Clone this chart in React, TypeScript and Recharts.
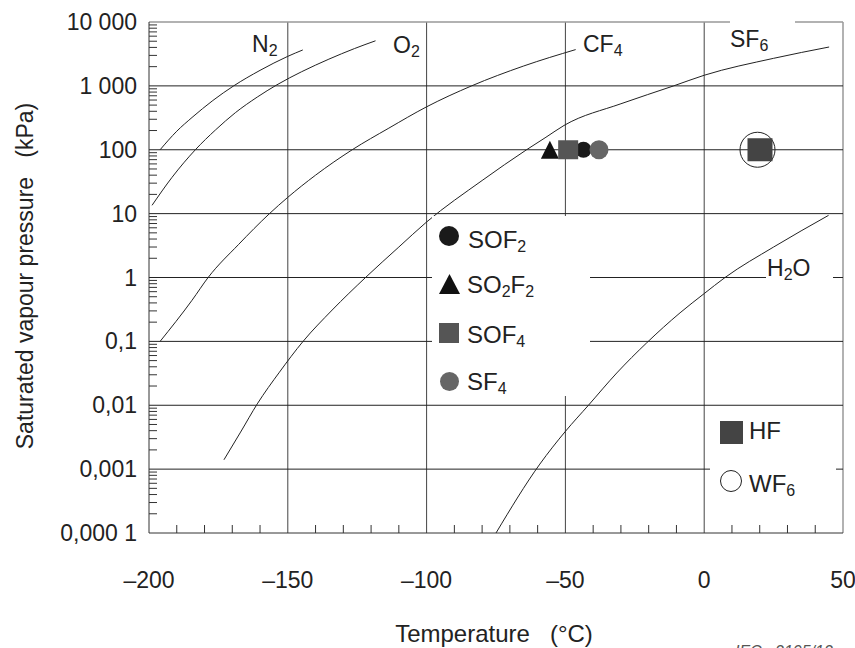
import { ComposedChart, Line, Scatter, XAxis, YAxis, ReferenceLine } from 'recharts'

const FONT = '"Liberation Sans", Arial, Helvetica, sans-serif'

// vapour pressure curves, temperature (°C) vs pressure (kPa)
const n2 = [
  { t: -196, p: 100 }, { t: -190, p: 195 }, { t: -184.5, p: 320 }, { t: -177, p: 590 },
  { t: -169.5, p: 1000 }, { t: -160, p: 1750 }, { t: -150, p: 2900 }, { t: -144.6, p: 3650 },
]
const o2 = [
  { t: -198.9, p: 13.5 }, { t: -191.7, p: 37 }, { t: -183.3, p: 100 }, { t: -176, p: 205 },
  { t: -168.9, p: 380 }, { t: -161, p: 668 }, { t: -153.9, p: 1040 }, { t: -145, p: 1667 },
  { t: -135.2, p: 2620 }, { t: -126, p: 3835 }, { t: -118.4, p: 5080 },
]
const cf4 = [
  { t: -196, p: 0.1 }, { t: -184.5, p: 0.44 }, { t: -178.7, p: 1 }, { t: -167.7, p: 3.3 },
  { t: -156.6, p: 10 }, { t: -150, p: 18 }, { t: -140, p: 40 }, { t: -126.8, p: 100 },
  { t: -113.6, p: 218 }, { t: -100, p: 470 }, { t: -83.8, p: 1000 }, { t: -65, p: 2050 },
  { t: -46.3, p: 3700 },
]
const sf6 = [
  { t: -173, p: 0.0014 }, { t: -167, p: 0.0038 }, { t: -161, p: 0.0105 }, { t: -153, p: 0.033 },
  { t: -144.5, p: 0.1 }, { t: -134, p: 0.31 }, { t: -122, p: 1 }, { t: -110, p: 3 },
  { t: -100, p: 7.4 }, { t: -80, p: 33 }, { t: -64, p: 100 }, { t: -57, p: 157 },
  { t: -50.5, p: 240 }, { t: -30, p: 525 }, { t: -11, p: 1000 }, { t: 0, p: 1466 },
  { t: 25, p: 2700 }, { t: 45, p: 4060 },
]
const h2o = [
  { t: -75, p: 0.0001 }, { t: -59.2, p: 0.0012 }, { t: -50, p: 0.0039 }, { t: -41.7, p: 0.01 },
  { t: -31.5, p: 0.032 }, { t: -20.7, p: 0.095 }, { t: -8.7, p: 0.28 }, { t: 0, p: 0.56 },
  { t: 7.5, p: 1 }, { t: 25, p: 3.0 }, { t: 44.8, p: 9.4 },
]

// boiling points at ~100 kPa
const so2f2 = [{ t: -55.6, p: 100 }]
const sof4 = [{ t: -49, p: 100 }]
const sof2 = [{ t: -43.5, p: 100 }]
const sf4 = [{ t: -37.9, p: 100 }]
const wf6 = [{ t: 19.2, p: 100 }]
const hf = [{ t: 20.1, p: 100 }]

const xMajor = [-200, -150, -100, -50, 0, 50]
const xMajorLabels = ['–200', '–150', '–100', '–50', '0', '50']
const xMinor = [-190, -180, -170, -160, -140, -130, -120, -110, -90, -80, -70, -60, -40, -30, -20, -10, 10, 20, 30, 40]
const yMajor = [0.0001, 0.001, 0.01, 0.1, 1, 10, 100, 1000, 10000]
const yMajorLabels = ['0,000 1', '0,001', '0,01', '0,1', '1', '10', '100', '1 000', '10 000']
const yMinor = yMajor.slice(0, -1).flatMap((d) => [2, 3, 4, 5, 6, 7, 8, 9].map((m) => d * m))

const xTicks = [...xMajor, ...xMinor].sort((a, b) => a - b)
const yTicks = [...yMajor, ...yMinor].sort((a, b) => a - b)

const XTick = ({ x, y, payload }: any) => {
  const i = xMajor.indexOf(payload.value)
  if (i < 0) return <line x1={x} x2={x} y1={y} y2={y - 8} stroke="#333" />
  return (
    <text x={x} y={y + 55} textAnchor="middle" fontSize={23} fontFamily={FONT} fill="#222">
      {xMajorLabels[i]}
    </text>
  )
}

const YTick = ({ x, y, payload }: any) => {
  const i = yMajor.indexOf(payload.value)
  if (i < 0) return <line x1={x} x2={x + 8} y1={y} y2={y} stroke="#333" />
  return (
    <text x={x - 12} y={y + 8} textAnchor="end" fontSize={23} fontFamily={FONT} fill="#222">
      {yMajorLabels[i]}
    </text>
  )
}

const dot = (fill: string, r: number) => (p: any) => <circle cx={p.cx} cy={p.cy} r={r} fill={fill} />
const square = (fill: string, w: number, h: number) => (p: any) => (
  <rect x={p.cx - w / 2} y={p.cy - h / 2} width={w} height={h} fill={fill} />
)
const triangle = (p: any) => (
  <polygon points={`${p.cx - 9},${p.cy + 9} ${p.cx + 9},${p.cy + 9} ${p.cx},${p.cy - 9}`} fill="#111" />
)
const ring = (p: any) => <circle cx={p.cx} cy={p.cy} r={17.5} fill="none" stroke="#222" strokeWidth={1} />

const Chem = ({ x, y, parts, size = 23 }: { x: number; y: number; parts: [string, string][]; size?: number }) => (
  <text x={x} y={y} fontSize={size} fontFamily={FONT} fill="#222">
    {parts.map(([main, sub], i) => (
      <tspan key={i}>
        <tspan dy={i > 0 && parts[i - 1][1] ? -4 : 0}>{main}</tspan>
        {sub && <tspan dy={4} fontSize={16}>{sub}</tspan>}
      </tspan>
    ))}
  </text>
)

export default function App() {
  const curves = [n2, o2, cf4, sf6, h2o]
  return (
    <div style={{ position: 'absolute', left: 0, top: 0, width: 855, height: 648, background: '#fff' }}>
      <ComposedChart width={855} height={648} margin={{ top: 22, right: 12, bottom: 0, left: 0 }}>
        <XAxis
          type="number"
          dataKey="t"
          domain={[-200, 50]}
          ticks={xTicks}
          interval={0}
          height={115}
          tickSize={0}
          tickMargin={0}
          tick={<XTick />}
          axisLine={{ stroke: '#333' }}
          allowDataOverflow
        />
        <YAxis
          type="number"
          dataKey="p"
          scale="log"
          domain={[0.0001, 10000]}
          ticks={yTicks}
          interval={0}
          width={149}
          tickSize={0}
          tickMargin={0}
          tick={<YTick />}
          axisLine={{ stroke: '#333' }}
          allowDataOverflow
        />
        {xMajor.slice(1).map((v) => (
          <ReferenceLine key={'x' + v} x={v} stroke={v === 50 ? '#999' : '#444'} strokeWidth={v === 50 ? 1.5 : 1} />
        ))}
        {yMajor.slice(1).map((v) => (
          <ReferenceLine key={'y' + v} y={v} stroke={v === 10000 ? '#999' : '#222'} strokeWidth={v === 10000 ? 1.5 : 1} />
        ))}
        {curves.map((d, i) => (
          <Line
            key={i}
            data={d}
            dataKey="p"
            type="monotone"
            stroke="#222"
            strokeWidth={1}
            dot={false}
            activeDot={false}
            isAnimationActive={false}
          />
        ))}
        <Scatter data={so2f2} dataKey="p" shape={triangle} isAnimationActive={false} />
        <Scatter data={sof2} dataKey="p" shape={dot('#1a1a1a', 8)} isAnimationActive={false} />
        <Scatter data={sof4} dataKey="p" shape={square('#555', 20, 19)} isAnimationActive={false} />
        <Scatter data={sf4} dataKey="p" shape={dot('#666', 9.5)} isAnimationActive={false} />
        <Scatter data={wf6} dataKey="p" shape={ring} isAnimationActive={false} />
        <Scatter data={hf} dataKey="p" shape={square('#444', 25, 23)} isAnimationActive={false} />
      </ComposedChart>

      <svg width={855} height={648} style={{ position: 'absolute', left: 0, top: 0, pointerEvents: 'none' }}>
        {/* white boxes behind labels and legends */}
        <rect x={432} y={216} width={158} height={180} fill="#fff" />
        <rect x={766} y={258} width={67} height={32} fill="#fff" />
        <rect x={710} y={412} width={126} height={92} fill="#fff" />
        <rect x={730} y={17} width={65} height={30} fill="#fff" />

        <Chem x={252} y={51.5} parts={[['N', '2']]} />
        <Chem x={393} y={52.5} parts={[['O', '2']]} />
        <Chem x={583} y={51.5} parts={[['CF', '4']]} />
        <Chem x={730} y={46.5} parts={[['SF', '6']]} />
        <Chem x={767} y={276} parts={[['H', '2'], ['O', '']]} />

        <circle cx={449} cy={236} r={10} fill="#1a1a1a" />
        <Chem x={468} y={247.5} size={24} parts={[['SOF', '2']]} />
        <polygon points="439,294 460,294 449.5,274" fill="#111" />
        <Chem x={467} y={292.5} size={24} parts={[['SO', '2'], ['F', '2']]} />
        <rect x={439} y={323} width={20} height={20} fill="#555" />
        <Chem x={467} y={342.5} size={24} parts={[['SOF', '4']]} />
        <circle cx={449.5} cy={381.5} r={9.5} fill="#666" />
        <Chem x={467} y={390} size={24} parts={[['SF', '4']]} />

        <rect x={720} y={421} width={23} height={23} fill="#444" />
        <Chem x={749} y={438.5} size={24} parts={[['HF', '']]} />
        <circle cx={731} cy={481} r={10.5} fill="#fff" stroke="#222" />
        <Chem x={749} y={491.5} size={24} parts={[['WF', '6']]} />

        <text
          transform="rotate(-90, 33, 276)"
          x={33}
          y={276}
          textAnchor="middle"
          fontSize={23}
          fontFamily={FONT}
          fill="#222"
          style={{ whiteSpace: 'pre' }}
        >
          {'Saturated vapour pressure   (kPa)'}
        </text>
        <text x={494} y={641.5} textAnchor="middle" fontSize={24} fontFamily={FONT} fill="#222" style={{ whiteSpace: 'pre' }}>
          {'Temperature   (°C)'}
        </text>
        <text x={735} y={657} fontSize={16} fontStyle="italic" fontFamily={FONT} fill="#555" style={{ whiteSpace: 'pre' }}>
          {'IEC   2105/12'}
        </text>
      </svg>
    </div>
  )
}
